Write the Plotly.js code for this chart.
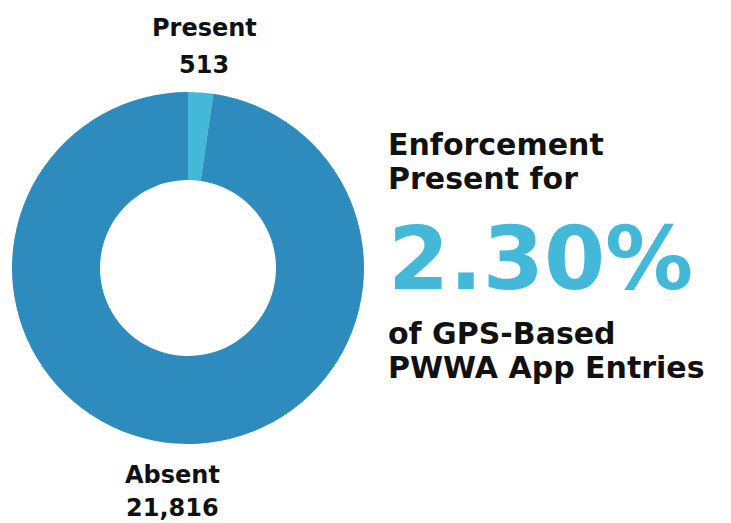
<!DOCTYPE html>
<html>
<head>
<meta charset="utf-8">
<script src="https://cdn.plot.ly/plotly-3.0.1.min.js"></script>
<style>html,body{margin:0;padding:0;background:#fff;}#chart{width:731px;height:523px;}</style>
</head>
<body>
<div id="chart"></div>
<script>
const categories = ["Present", "Absent"];
const values = [513, 21816];
const colors = ["#44b8d8", "#2e8bbd"];
const headline = ["Enforcement", "Present for"];
const footline = ["of GPS-Based", "PWWA App Entries"];

const total = values.reduce((a, b) => a + b, 0);
const pct = (values[0] / total * 100).toFixed(2) + "%";
const fmt = v => v.toLocaleString("en-US");
const FONT = "'DejaVu Sans', sans-serif";

const trace = {
  type: "pie",
  labels: categories,
  values: values,
  hole: 0.5,
  sort: false,
  direction: "clockwise",
  rotation: 0,
  marker: {colors: colors, line: {width: 0}},
  textinfo: "none",
  hoverinfo: "label+value",
  showlegend: false,
  domain: {x: [12/731, 364/731], y: [79/523, 431/523]}
};

function ann(x, y, text, size, color, xanchor) {
  return {xref: "paper", yref: "paper", x: x / 731, y: 1 - y / 523, showarrow: false,
          xanchor: xanchor || "center", yanchor: "middle", align: xanchor || "center",
          text: "<b>" + text + "</b>",
          font: {family: FONT, size: size, color: color}};
}

const annotations = [
  ann(204, 28, categories[0], 24, "#111"),
  ann(204, 65, fmt(values[0]), 24, "#111"),
  ann(172, 475, categories[1], 24, "#111"),
  ann(172, 508, fmt(values[1]), 24, "#111"),
  ann(386, 144, headline[0], 30, "#111", "left"),
  ann(386, 178, headline[1], 30, "#111", "left"),
  ann(386, 258, pct, 88, colors[0], "left"),
  ann(386, 333, footline[0], 30, "#111", "left"),
  ann(386, 367, footline[1], 30, "#111", "left")
];

const layout = {
  width: 731, height: 523,
  margin: {l: 0, r: 0, t: 0, b: 0},
  paper_bgcolor: "#fff",
  annotations: annotations
};

Plotly.newPlot("chart", [trace], layout, {displayModeBar: false, staticPlot: true});
</script>
</body>
</html>
